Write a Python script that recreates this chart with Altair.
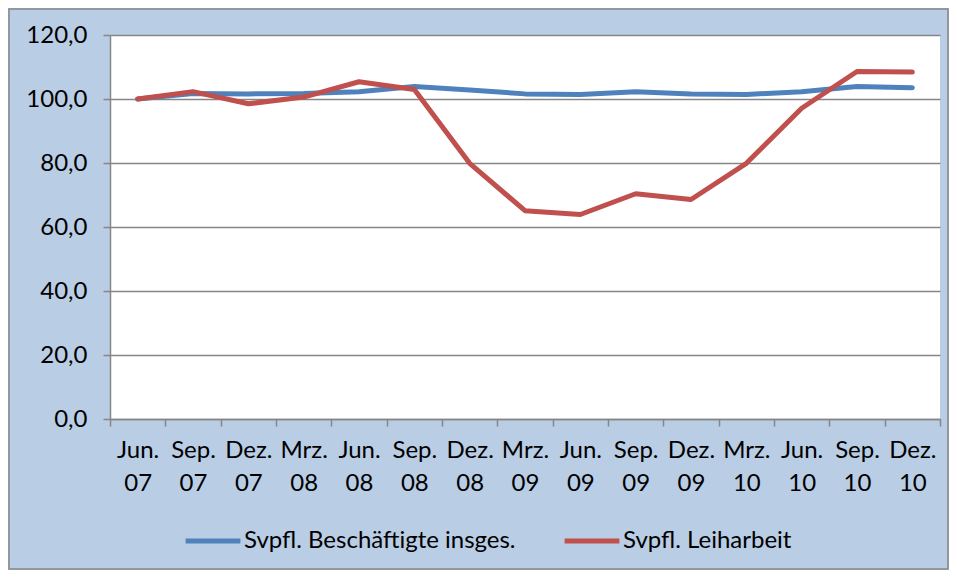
import altair as alt
import pandas as pd

categories = ["Jun. 07", "Sep. 07", "Dez. 07", "Mrz. 08", "Jun. 08", "Sep. 08", "Dez. 08",
              "Mrz. 09", "Jun. 09", "Sep. 09", "Dez. 09", "Mrz. 10", "Jun. 10", "Sep. 10", "Dez. 10"]
series_names = ["Svpfl. Beschäftigte insges.", "Svpfl. Leiharbeit"]
total = [100.0, 101.7, 101.6, 101.7, 102.3, 103.9, 102.8, 101.6, 101.4, 102.3, 101.6, 101.4, 102.3, 103.9, 103.5]
temp = [100.0, 102.3, 98.5, 100.6, 105.4, 103.0, 79.9, 65.1, 63.9, 70.4, 68.6, 79.9, 97.1, 108.6, 108.4]
colors = ["#4F81BD", "#C0504D"]

rows = []
for name, vals in zip(series_names, [total, temp]):
    for c, v in zip(categories, vals):
        rows.append({"Monat": c, "Wert": v, "Serie": name})
df = pd.DataFrame(rows)

FONT = "Lato"
FS = 24
W, H = 830, 384

lines = alt.Chart(df).mark_line(strokeWidth=5, strokeCap="round", strokeJoin="round").encode(
    x=alt.X("Monat:N", sort=categories, title=None,
            scale=alt.Scale(type="band", paddingInner=0, paddingOuter=0),
            axis=alt.Axis(labelAngle=0, labelExpr="split(datum.label, ' ')", labelLineHeight=33,
                          tickBand="extent", grid=False, tickSize=7, labelPadding=12,
                          domainColor="#868686", tickColor="#868686", domainWidth=1.5, tickWidth=1.5,
                          labelFontSize=FS, labelFont=FONT, labelColor="#000000")),
    y=alt.Y("Wert:Q", title=None,
            scale=alt.Scale(domain=[0, 120], nice=False),
            axis=alt.Axis(values=[0, 20, 40, 60, 80, 100, 120],
                          labelExpr="replace(format(datum.value, '.1f'), '.', ',')",
                          grid=True, gridColor="#868686", gridWidth=1.5, tickSize=7, labelPadding=16,
                          domainColor="#868686", tickColor="#868686", domainWidth=1.5, tickWidth=1.5,
                          labelFontSize=FS, labelFont=FONT, labelColor="#000000")),
    color=alt.Color("Serie:N", sort=series_names,
                    scale=alt.Scale(domain=series_names, range=colors),
                    legend=alt.Legend(title=None, orient="none", legendX=73, legendY=476,
                                      direction="horizontal", symbolType="stroke",
                                      symbolStrokeWidth=5, symbolSize=3000, labelFontSize=FS,
                                      labelFont=FONT, labelColor="#000000", columnPadding=38,
                                      labelOffset=1, padding=0, labelLimit=1000)),
)

border = alt.Chart(pd.DataFrame({"a": [0]})).mark_rect(fill=None, stroke="#868686", strokeWidth=1.5).encode(
    x=alt.value(-101), x2=alt.value(W + 8), y=alt.value(-26), y2=alt.value(H + 150)
)

chart = alt.layer(border, lines).properties(
    width=W, height=H,
    autosize=alt.AutoSizeParams(type="none"),
    padding={"left": 102, "top": 27, "right": 9, "bottom": 151},
    background="#B9CDE5",
).configure_view(fill="white", stroke=None)

chart.save("out.html", embed_options={"renderer": "svg", "actions": False})
